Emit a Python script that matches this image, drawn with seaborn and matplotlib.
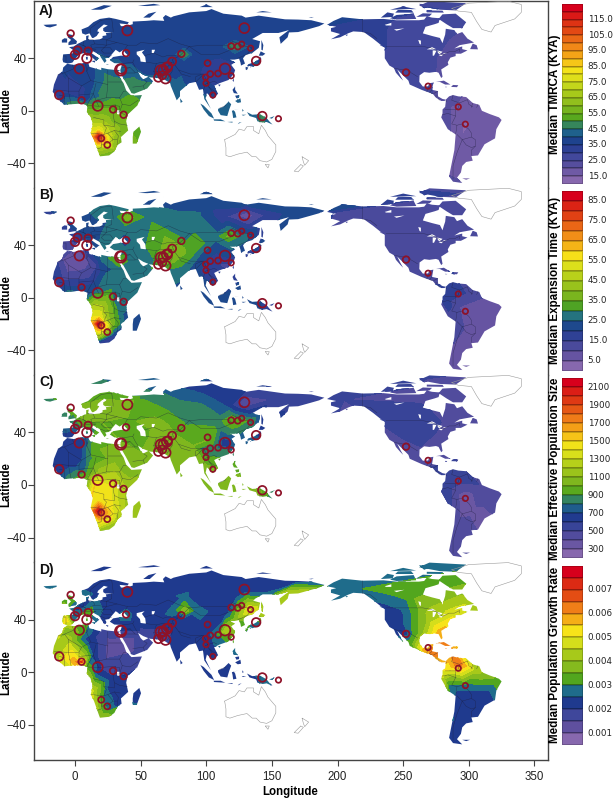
"""Coalescent estimates across sampled populations, four stacked map panels."""
import matplotlib
matplotlib.use("Agg")
import matplotlib.pyplot as plt
from matplotlib.colors import ListedColormap
from matplotlib.path import Path
import numpy as np
import seaborn as sns

# --- sampling sites (lon, lat) and circle radius in pixels
site_lon = [-3.3, 0, 2, 10, 9, 3.3, 38.9, 39.9, 34.8, 35.2, 81, 63.5, 65.5, 67.3, 70, 71, 74, 69, 66.5,
            129, 119, 124, 127, 133.8, 138, 101, 114.3, 109, 103, 99.5, 99.8, 105, 119, 142.7, 155,
            -12, 5, 17.3, 29, 37, 20, 24.6, 252.2, 269, 292, 297.4]
site_lat = [58.9, 42.7, 46, 45.5, 40, 32, 44, 61.2, 31.2, 31.8, 43.4, 25.4, 30.7, 31, 33, 34, 37.6, 24.6, 27,
            63, 49.3, 49, 50.8, 47.7, 38, 36.3, 32, 28.4, 28, 25.6, 21, 12, 26.7, -4, -6,
            12, 8, 3.8, 1, -3, -21, -26, 29.2, 18.8, 3, -10.2]
site_rad = [3.3, 4.3, 4, 3.7, 4.7, 4.7, 3.3, 5, 5.7, 4.7, 3.3, 4.3, 5.3, 4.7, 5, 4, 4, 5, 4,
            5, 3, 3, 2.7, 2.7, 4.3, 3, 5.3, 3, 3, 2.7, 2.7, 2.7, 2.7, 4.3, 2.7,
            4.3, 3.3, 5, 3.3, 3.3, 3, 3, 3.3, 2.7, 2.7, 2.7]

# --- estimated surface values: (lon, lat, value)
corners_a = [(-35, -60, 35), (-35, 85, 38), (335, 85, 24), (335, -60, 17), (150, -60, 40), (185, 20, 30)]
field_a = corners_a + [
    (18, -20, 120), (18, -17, 100), (15, -20, 100), (21, -21, 100), (18, -23.5, 100), (18, -14, 78), (10, -20, 85), (27, -20, 72),
    (18, -28, 70), (30, -20, 62), (35, -12, 58), (30, -30, 60), (20, -5, 62), (15, -5, 62), (35, -5, 57),
    (45, -20, 55), (25, 3, 54), (10, 3, 52), (42, 5, 52), (30, 12, 48), (15, 10, 44), (8, 8, 36),
    (5, 15, 32), (-10, 15, 32), (-5, 25, 33), (15, 20, 40), (25, 22, 47), (35, 20, 47), (45, 22, 47),
    (55, 20, 46), (45, 30, 42), (35, 33, 41), (-5, 35, 38), (0, 45, 38), (15, 50, 38), (30, 50, 38),
    (20, 65, 39), (40, 60, 38), (40, 40, 38), (60, 50, 38), (55, 30, 37), (70, 30, 38), (83, 43, 51),
    (77, 43, 40), (89, 43, 40), (83, 48, 39), (83, 38, 38), (80, 20, 41), (90, 25, 37), (100, 30, 33),
    (110, 32, 31), (118, 28, 30), (105, 15, 36), (100, 45, 38), (122, 49, 50), (112, 49, 39), (132, 49, 40),
    (122, 43, 38), (122, 54, 39), (100, 65, 40), (130, 63, 38), (160, 65, 39), (180, 66, 40), (138, 38, 40),
    (115, 0, 42), (125, 5, 42), (142, -5, 47), (135, -3, 42), (148, -5, 42), (200, 65, 33), (225, 65, 31),
    (250, 60, 29), (265, 55, 29), (285, 55, 25), (250, 45, 29), (260, 40, 28), (280, 40, 24), (250, 30, 29),
    (265, 20, 27), (280, 10, 23), (290, 5, 20), (297, -10, 14), (300, -25, 17), (290, -45, 18), (310, -5, 17),
]
corners_b = [(-35, -60, 15), (-35, 85, 22), (335, 85, 12), (335, -60, 8), (150, -60, 20), (185, 20, 14)]
field_b = corners_b + [
    (18, -20, 88), (18, -17, 70), (15, -20, 70), (21, -21, 70), (18, -23.5, 65), (18, -14, 55), (10, -20, 60), (28, -20, 38),
    (18, -30, 40), (30, -28, 20), (35, -25, 20), (40, -20, 22), (35, -10, 26), (22, -5, 43), (15, -5, 45), (25, 3, 33), (10, 3, 22),
    (17, 6, 25), (30, 10, 27), (45, 8, 27), (25, 18, 27), (20, 20, 20), (15, 25, 12), (3, 32, 5), (-5, 22, 8), (10, 18, 12),
    (-10, 12, 16), (5, 8, 20), (-10, 30, 10), (20, 32, 27), (36, 28, 36), (32, 22, 27), (42, 28, 27), (55, 20, 27),
    (5, 47, 20), (-3, 42, 14), (15, 50, 21), (22, 47, 27), (0, 55, 22), (38, 44, 22), (38, 36, 26), (28, 44, 27), (48, 44, 27), (38, 53, 27),
    (40, 61, 38), (30, 62, 27), (55, 62, 28), (40, 69, 27), (70, 30, 40), (60, 35, 33), (57, 28, 26), (74, 40, 38),
    (90, 36, 33), (80, 50, 27), (95, 35, 26), (75, 20, 27), (85, 22, 26), (107, 28, 16), (115, 25, 14), (98, 20, 18),
    (108, 38, 22), (120, 35, 24), (100, 8, 22), (117, 47, 36), (107, 47, 27), (127, 47, 28), (117, 41, 27), (117, 53, 27),
    (130, 63, 6), (115, 62, 15), (100, 70, 22), (92, 62, 27), (145, 63, 15), (165, 65, 22), (130, 72, 22), (185, 66, 22),
    (135, 50, 22), (138, 38, 20), (115, 0, 21), (125, 8, 21), (142, -5, 20), (130, -3, 21),
    (200, 65, 13), (230, 60, 13), (270, 60, 12), (250, 40, 13), (280, 40, 13), (260, 20, 13), (280, 10, 15),
    (292, 5, 17), (283, 0, 17), (310, 0, 10), (297, -10, 7), (300, -30, 8), (290, -45, 8),
]
corners_c = [(-35, -60, 900), (-35, 85, 900), (335, 85, 450), (335, -60, 350), (150, -60, 900), (185, 20, 500)]
field_c = corners_c + [
    (18, -20, 2150), (18, -16, 1750), (15, -20, 1850), (22, -21, 1700), (18, -24, 1750), (18, -12, 1480), (10, -20, 1500), (30, -20, 1380),
    (20, -30, 1350), (33, -28, 1150), (40, -18, 1150), (25, -5, 1450), (15, 0, 1500), (30, 0, 1350), (40, 0, 1150), (20, 10, 1150),
    (10, 8, 950), (7, 12, 760), (12, 20, 880), (4, 25, 650), (-10, 15, 600), (-10, 25, 600), (5, 32, 620), (15, 30, 980), (30, 20, 1050), (45, 15, 1000),
    (-8, 40, 700), (-3, 44, 720), (5, 50, 1000), (20, 48, 1000), (0, 60, 1000), (20, 65, 1000), (40, 61, 1100), (40, 50, 980),
    (35, 33, 1000), (50, 25, 1000), (70, 30, 1100), (65, 45, 1050), (50, 40, 950), (90, 30, 1000), (78, 20, 1000),
    (70, 60, 870), (95, 58, 850), (50, 68, 880), (85, 48, 880), (110, 45, 850), (122, 49, 1000), (108, 49, 850), (135, 49, 860),
    (122, 56, 700), (115, 60, 700), (95, 72, 680), (129, 63, 380), (150, 65, 500), (170, 65, 550), (190, 66, 550), (105, 70, 650), (130, 72, 600),
    (114, 31, 600), (122, 25, 820), (108, 28, 800), (98, 27, 820), (103, 35, 1000), (118, 40, 840), (125, 38, 780), (138, 38, 700),
    (100, 15, 1000), (115, 0, 1050), (125, 8, 1000), (142, -5, 1000), (150, -5, 820), (128, -3, 1050),
    (205, 65, 500), (245, 55, 550), (265, 45, 550), (270, 65, 480), (290, 50, 460), (285, 35, 450), (250, 32, 490), (262, 20, 470),
    (280, 10, 520), (292, 5, 560), (283, 0, 560), (310, 0, 490), (297, -10, 320), (305, -20, 380), (320, -10, 430), (290, -35, 450),
]
corners_d = [(-35, -60, .004), (-35, 85, .002), (335, 85, .003), (335, -60, .002), (150, -60, .002), (185, 20, .002)]
field_d = corners_d + [
    (5, 8, .0072), (0, 8, .0058), (-5, 10, .0054), (8, 10, .0042), (-12, 12, .0045), (-15, 20, .0042), (-5, 25, .0042), (3, 30, .0034), (-8, 33, .0037),
    (9, 5, .0032), (14, 14, .0022), (10, 25, .0022), (20, 30, .0018), (30, 20, .001), (40, 22, .001), (45, 15, .0015), (30, 32, .002),
    (22, 8, .0016), (17, 0, .0022), (12, 2, .0032), (28, -5, .0021), (40, -5, .0021), (12, -15, .0048), (15, -22, .0043), (22, -20, .0028),
    (20, -33, .0037), (28, -28, .0026), (35, -20, .0022), (48, -20, .0022), (-7, 40, .0053), (-3, 44, .0026), (-8, 53, .0035), (5, 50, .0022), (10, 45, .0033),
    (25, 48, .0022), (20, 62, .0022), (38, 44, .0028), (30, 44, .0023), (48, 44, .0022), (40, 52, .0022), (50, 30, .0019), (60, 40, .0022), (70, 30, .0019), (80, 20, .0022),
    (40, 65, .0022), (60, 62, .0022), (84, 47, .0039), (84, 41, .0022), (75, 47, .0027), (92, 47, .0027), (83, 57, .0026), (72, 55, .0022), (98, 55, .0022), (100, 30, .0022),
    (105, 15, .0022), (95, 72, .0022), (129, 63, .0021), (115, 45, .0022), (122, 58, .0022), (108, 28, .0029), (114, 31, .0043), (121, 27, .0034),
    (122, 40, .0037), (128, 48, .0042), (134, 47, .0052), (140, 50, .0044), (142, 44, .0042), (138, 38, .0028), (150, 60, .0026), (160, 60, .0044), (175, 62, .0042),
    (170, 69, .0024), (115, 0, .0022), (125, 8, .0022), (142, -5, .0027), (135, -3, .0022),
    (195, 66, .0028), (225, 60, .0028), (232, 50, .0023), (245, 40, .002), (252, 29, .0023), (257, 22, .0034), (265, 17, .0055), (272, 14, .0062),
    (255, 60, .0033), (265, 50, .0038), (270, 40, .0042), (278, 30, .0058), (290, 45, .0048), (290, 60, .0038), (262, 30, .0035), (285, 20, .0062),
    (292, 7, .0065), (285, 3, .0052), (280, -2, .0046), (305, 2, .0043), (322, -5, .0034), (297, -10, .0028), (285, -10, .0028),
    (315, -15, .0024), (300, -20, .002), (290, -45, .002),
]

# --- colour bars: low edge, high edge, step, tick labels
bar_edges = [(10, 125, 5), (0, 90, 5), (200, 2200, 100), (.0005, .008, .0005)]
bar_ticks = [[115, 105, 95, 85, 75, 65, 55, 45, 35, 25, 15],
             [85, 75, 65, 55, 45, 35, 25, 15, 5],
             [2100, 1900, 1700, 1500, 1300, 1100, 900, 700, 500, 300],
             [.007, .006, .005, .004, .003, .002, .001]]
bar_fmt = ["{:.1f}", "{:.1f}", "{:.0f}", "{:.3f}"]
bar_titles = ["Median TMRCA (KYA)", "Median Expansion Time (KYA)",
              "Median Effective Population Size", "Median Population Growth Rate"]
bar_rows = [(4, 184), (190.7, 370.7), (378, 558), (565.7, 745)]
title_y = [94, 280, 469, 655]
ramp = ["#8768AE", "#5F509F", "#3E479B", "#1E3A8E", "#1F6C8C", "#52A61E", "#86BA1E", "#A6C81A",
        "#D4DE1B", "#F7E319", "#F5AE17", "#F08018", "#E44E14", "#DC2A14", "#D7001C"]

# --- land outlines, filled with the surface
eurasia = [(-9, 37), (-9.5, 39), (-9, 43), (-2, 43.5), (-1, 46), (-4.5, 48.5), (-1, 49), (2, 51), (4, 52), (7, 53.5), (8.5, 54),
           (8.5, 57), (10.5, 57.5), (10, 55), (11, 54), (14, 54), (19, 54.5), (21, 55.5), (21, 57), (24, 57.5), (23.5, 59.3), (29, 60),
           (23, 60), (21.5, 61), (21.5, 63), (25, 65), (22, 65.8), (17.5, 62), (17, 60.5), (18.5, 60), (16.5, 57), (14, 55.5), (13, 55.5),
           (11, 59), (8, 58), (5.5, 59), (5, 62), (10, 64), (14, 67.5), (19, 70), (26, 71), (31, 70), (41, 67.5), (40, 66), (34, 66.5),
           (35, 64.5), (38, 64.5), (40.5, 65), (44, 66), (44, 68), (54, 68.5), (60, 69), (68, 68.5), (67, 71), (69, 73), (73, 71), (75, 72),
           (81, 73.5), (87, 75), (100, 76), (104, 77.5), (113, 74), (127, 72.5), (130, 71), (140, 72.5), (160, 69.7), (170, 69.5), (180, 69),
           (190, 66.5), (186, 64.5), (179, 62.5), (170, 60), (163, 59.7), (162, 56), (156.7, 51), (155.7, 56), (163, 61.5), (155, 59.3),
           (143, 59.3), (135, 54.7), (141, 53), (140, 48), (135, 44), (130, 42.5), (128, 40), (129.5, 36), (126.5, 34.5), (126, 37),
           (125, 39.7), (121.5, 39), (118, 39), (122, 37), (119, 35), (122, 31), (121, 28), (117, 23.5), (110, 21), (106, 19), (109, 13),
           (105, 9), (100.5, 13.5), (99.5, 9.5), (103.5, 1.5), (100.5, 6), (98.5, 9), (97.5, 16.5), (94.5, 16), (92, 22), (87, 21), (80, 15),
           (80, 11), (77.5, 8), (73, 19), (72.5, 21), (67, 24.5), (57, 25.5), (52, 27.5), (48, 30), (50, 26), (52, 24), (56, 26), (59.5, 22.5),
           (55, 17), (45, 13), (43, 13.5), (39, 21), (35, 28), (34.5, 31), (36, 36), (30, 36.3), (26.5, 38.5), (29, 41), (35, 42), (41, 41.5),
           (38, 44.5), (37, 46.5), (34, 44.5), (31, 46.5), (28, 43), (26, 40.5), (23, 40), (24, 38), (22.5, 36.5), (19.5, 41), (19, 42.5),
           (13.5, 45.5), (12.5, 44), (16, 41.5), (18.5, 40), (16, 38), (11, 42.5), (8.5, 44.3), (3.5, 43.3), (0, 39.5), (-2, 36.7), (-5.5, 36)]
africa = [(-6, 35.8), (-1, 35), (10, 37), (11, 33.5), (20, 31), (20, 32.8), (25, 31.7), (32, 31), (34.3, 31), (32.5, 29.5), (35, 24), (37, 21),
          (39, 15.5), (43, 11.5), (51, 12), (47.5, 4), (40, -3), (39, -8), (40.5, -15), (35, -20), (35.5, -24), (32.5, -26), (30, -31), (26, -34),
          (19, -34.7), (18, -32), (14.5, -22), (12, -17), (13.5, -10), (12, -5), (9, -1), (9.5, 4), (5, 5.5), (-3, 5), (-8, 4.5), (-13, 9),
          (-17, 14.5), (-16, 20), (-13, 27.5), (-9.5, 30), (-9, 33)]
north_america = [(192, 65.5), (197, 68.5), (203.5, 71.3), (219, 69.7), (235, 70), (245, 69), (252, 69), (262, 69), (266, 69.5), (268, 72), (272, 71),
                 (278, 70.5), (277, 67), (274, 66), (267, 64), (265, 59), (272, 57), (278, 55.5), (280, 51.5), (281, 55), (282, 58), (282.5, 62.5),
                 (289, 61.5), (291, 58.5), (295, 60), (299, 55), (304, 52), (293, 50), (289, 47.5), (295, 49), (295, 47), (299, 46), (294, 43.5), (290, 43.5),
                 (290, 41.7), (286, 40.5), (284, 37), (284.5, 35), (279, 31.5), (280, 26), (279, 25), (277, 29), (275, 29.7), (270, 29), (266, 29.5),
                 (262.5, 27), (262.3, 22), (265, 18.5), (269, 18.7), (270, 21), (273, 21.5), (272, 16), (276.5, 15), (276.5, 11), (280, 9), (282.5, 8.5),
                 (281.5, 7.5), (279, 7.5), (275, 10), (272.5, 13), (268, 14.5), (264, 16), (255, 20), (254, 23), (248, 29), (245.5, 31.5), (248, 26.5),
                 (250, 23), (248, 25), (244.5, 29), (243, 32.5), (239.5, 34.5), (236, 40), (236, 48), (232, 51), (227, 55), (220, 60), (212, 60.5),
                 (208, 59), (202, 56), (195, 54.5), (202, 58.5), (195, 60.5), (195, 63), (199, 64)]
south_america = [(282.5, 8.5), (285, 11), (288, 12), (292, 11), (298, 10.5), (303, 6), (308, 4.5), (310, 0), (316, -2.5), (323, -5), (325, -7),
                 (321, -14), (320, -21), (312, -25.5), (307, -34), (302, -34.5), (303, -38), (298, -39), (295, -42), (294, -47), (291, -51), (295, -55),
                 (288, -54), (285, -50), (287, -40), (289, -30), (290, -18), (284, -14), (279, -5), (280, -2), (280, 1), (282, 3), (282.5, 7)]
islands = [
    [(-5, 50), (1, 51), (1.5, 53), (-2, 56), (-2, 57.7), (-5, 58.5), (-5.5, 56), (-3, 54), (-5, 52)],
    [(-10, 52), (-6, 52), (-6, 55), (-8, 55.3), (-10, 54)],
    [(-24, 65.5), (-14, 66), (-14, 65), (-19, 63.5), (-22, 64)],
    [(8.3, 41), (9.7, 41), (9.7, 39), (8.5, 39)], [(8.7, 43), (9.5, 43), (9.4, 41.5), (8.8, 41.6)],
    [(12.5, 38), (15.5, 38.2), (15, 36.7)], [(32.5, 35), (34.5, 35.6), (33.5, 34.6)], [(23.5, 35.5), (26, 35.3), (24.5, 35)],
    [(12, 77), (22, 80.5), (28, 80), (20, 77)], [(48, 80), (60, 81.5), (65, 80.5), (55, 79.8)],
    [(52, 71), (56, 74), (68, 77), (62, 75.5), (57, 71)], [(95, 79), (105, 79), (100, 81)], [(138, 75), (150, 75), (143, 76)],
    [(178, 71), (182, 71.5), (180, 70.8)], [(80, 9.5), (82, 7), (80.5, 6)], [(121, 25), (121, 22), (120, 23)],
    [(109, 20), (111, 20), (110, 18.5)], [(142, 54), (143.5, 50), (143, 46), (142, 46.5), (142, 50)],
    [(131, 34), (135, 33.5), (140, 35), (142, 39.5), (141, 41.3), (139.8, 39), (136.5, 37), (132, 35.5)],
    [(140, 42), (141.5, 45.3), (145, 43.5), (143, 42)], [(130, 33.5), (132, 33), (131, 31), (130, 31.5)], [(132.5, 34), (134.5, 34.2), (134, 33)],
    [(120, 16), (122, 18.5), (122, 16), (124, 13), (121, 13.5)], [(122, 7.5), (126, 9.5), (126.5, 6.5), (124, 6)], [(122, 11.5), (125, 12), (125, 10), (123, 9.5)],
    [(109, 1.5), (113, 3), (117, 7), (119, 5), (117.5, 1), (116, -4), (111, -3.3), (109, 0)],
    [(95.5, 5.5), (98, 4), (104, -2), (106, -6), (102, -4), (98, 1)], [(105.5, -6.5), (111, -6.5), (114.5, -8), (106, -7.5)],
    [(119.5, 0), (125, 1.5), (121, 0.5), (122, -1), (123, -5), (120.5, -5.5), (120, -2)], [(116, -8.5), (120, -8.3), (120, -9)], [(125, -9), (127, -8.5), (124, -10.2)],
    [(127.5, 1.5), (128.5, 0), (127.5, -0.5)], [(127, -3), (130.5, -3), (128, -3.7)],
    [(131, -1), (135, -3), (141, -2.6), (146, -5.5), (148, -8), (150.5, -10.5), (146, -8.5), (143, -9), (139, -8), (138, -5.5), (133, -4)],
    [(148, -5.5), (152, -4), (150, -6)], [(49, -12), (50.3, -16), (47, -25), (44, -25), (44, -20), (44.5, -16)],
    [(277, 70), (280, 73.5), (290, 74), (298, 67.5), (295, 63), (288, 63), (283, 66)], [(240, 70.5), (245, 73), (258, 74), (260, 70), (245, 69.5)], [(233, 71), (238, 75), (243, 74), (242, 71.5)],
    [(278, 77), (290, 76.5), (298, 82), (270, 83.5), (262, 80)], [(268, 75), (281, 74.8), (280, 76.3), (268, 76.5)], [(244, 74.8), (258, 74.8), (256, 77), (246, 76.8)],
    [(260, 71.5), (265, 74.3), (272, 74), (270, 72)], [(266, 78), (273, 81), (262, 81.5)], [(240, 77), (250, 79.5), (260, 77.5)],
    [(301, 47), (307, 46.8), (306, 50), (303, 51.2)], [(275, 22), (281, 23), (286, 20), (282, 20), (278, 22)],
    [(288, 19.7), (292, 19.5), (291, 18), (286.5, 18.2)], [(282, 18.4), (283.5, 18.2), (282.5, 17.8)], [(232, 50.5), (236, 48.5), (233, 49.5)],
    [(295, -51.5), (301, -51.5), (298, -52.5)], [(206, 58), (208, 58), (207, 57)],
]
lakes = [[(47, 45), (53, 46.5), (51, 44.5), (53.5, 41), (54, 37), (50, 37.5), (49.5, 40.5), (47, 43)],
         [(58.5, 46.5), (61, 46.5), (60, 44), (58.5, 44)],
         [(-88, 48.5), (-85, 47), (-87, 46.7), (-92, 46.8)], [(-87.5, 46), (-84.5, 46), (-86.5, 42), (-87.5, 42)],
         [(-84, 46), (-80, 45), (-82, 43), (-83.5, 44)], [(-83, 42.5), (-79, 43), (-81, 41.6)], [(-79.5, 44), (-76.5, 44), (-79, 43.3)],
         [(-98.5, 54), (-96.5, 53.5), (-96.5, 50.5), (-97.5, 51)], [(-124, 65.5), (-119, 67), (-119, 65), (-123, 65)], [(-117, 62), (-109, 62.8), (-115, 61)],
         [(32, 0.4), (34, 0.3), (34, -2.8), (32, -2.5)]]

# --- outlines only, no surface drawn on them
australia = [(114, -22), (122, -18), (125, -14), (129, -15), (131, -12), (136, -12), (136, -15), (140, -17.5), (142, -11), (145, -15), (147, -19),
             (153, -26), (153, -31), (150, -37), (146, -39), (141, -38), (138, -35), (135, -35), (131, -31.5), (124, -33), (118, -35), (115, -34), (115, -28)]
empty_land = [australia, [(145, -41), (148, -41), (147, -43.5)], [(173, -35), (178, -38), (175, -41.5), (174, -39)], [(172, -41), (174, -42), (170, -46.5), (167, -46)],
              [(287, 78), (300, 82), (330, 83.5), (340, 81), (340, 75), (335, 70), (320, 65), (317, 60), (310, 62), (306, 68), (302, 75), (292, 76)]]

# --- national borders
borders = [
    [(219, 69.7), (219, 60), (225, 59), (230, 55)], [(237, 49), (265, 49), (271, 48), (277, 45), (280, 42.5), (285, 45), (289, 45), (293, 47), (293, 45)],
    [(243, 32.5), (251, 31), (254, 31.5), (256, 29), (261, 26)], [(268, 14.5), (269, 18), (271, 18)], [(272, 16), (270, 14), (272.5, 13)], [(276.5, 15), (273, 13)], [(276.5, 11), (274.5, 11)], [(277, 9.5), (277.5, 8)],
    [(282.5, 8), (283, 7)], [(288, 12), (287, 8), (293, 6), (292, 2), (290, 1), (282, 1)], [(293, 6), (299, 8.5)], [(299, 8.5), (300, 5), (303, 3)], [(303, 6), (302, 2.5)], [(307, 5), (306, 2.5)],
    [(280, -3), (284, -2), (290, -4), (290, 1)], [(290, -4), (287, -10), (291, -11), (290, -18)], [(291, -11), (295, -10), (300, -14), (302, -17), (302, -20), (295, -22), (291, -18)],
    [(295, -22), (291, -32), (288, -42), (288, -52)], [(302, -20), (305, -22), (305, -27), (302, -28), (298, -26), (295, -22)], [(305, -27), (302, -30), (302, -34)],
    [(-2, 35), (-1, 32), (-8, 29), (-13, 27.5)], [(-8, 29), (-5, 25), (5, 19), (12, 23), (9, 30), (8, 36)], [(10, 33), (9, 30)], [(12, 23), (25, 20), (25, 31)], [(25, 22), (36, 22)],
    [(-16, 16), (-5, 15), (-5, 25)], [(-5, 15), (3, 15), (5, 19)], [(3, 15), (3, 6)], [(3, 12), (14, 13), (16, 21)], [(14, 13), (9, 4)], [(14, 13), (16, 8), (24, 10), (25, 20)], [(24, 10), (34, 10), (37, 15), (39, 15)],
    [(-5, 15), (-3, 5)], [(-8, 4.5), (-8, 11), (-12, 12)], [(34, 10), (36, 5), (42, 4), (48, 8)], [(36, 5), (34, -1), (40, -4)], [(30, 4), (34, 3.5), (34, -1)], [(16, 8), (18, 3.5), (31, 4.5), (30, -1)],
    [(14, -5), (22, -7), (22, -11), (30, -12), (30, -8), (29, -3), (30, -1)], [(30, -1), (34, -1)], [(30, -8), (34, -10), (40, -11)], [(12, -17), (22, -18), (25, -17), (30, -15), (35, -16)], [(22, -11), (24, -13), (22, -18)],
    [(30, -15), (33, -19), (32, -26)], [(20, -18), (20, -28), (17, -29)], [(25, -17), (29, -22), (32, -22)], [(20, -26), (25, -25), (29, -22)], [(9.5, 4), (18, 3.5)],
    [(-9, 42), (-7, 42), (-7, 37)], [(-2, 43.5), (3, 42.5)], [(3, 51), (8, 49), (7, 46), (7.5, 44)], [(7, 53.5), (6, 50), (8, 49)], [(9, 54.8), (14, 54)], [(14, 54), (15, 51), (12, 50), (13, 47.5), (8, 47.5)], [(7, 46), (13, 46.5), (16, 46.5), (13.5, 45.5)],
    [(15, 51), (24, 50), (24, 54), (19, 54.5)], [(24, 50), (22, 48), (16, 48), (13, 47.5)], [(22, 48), (27, 48), (29, 45)], [(24, 54), (28, 56), (28, 60)], [(24, 50), (32, 52), (40, 50), (38, 47)], [(24, 54), (32, 52)], [(22, 48), (20, 46), (22, 44), (28, 44)], [(19, 42.5), (21, 42), (23, 41), (26, 41.5), (28, 42)],
    [(12, 59), (12, 63), (20, 69)], [(20, 69), (28, 70), (29, 62), (29, 60)], [(40, 50), (47, 50), (50, 52), (62, 51), (71, 55), (80, 51), (87, 49)], [(87, 49), (98, 50), (106, 50), (117, 50), (120, 53), (127, 50), (135, 48), (131, 43)],
    [(87, 49), (80, 42), (74, 39), (76, 35), (79, 31), (88, 28), (98, 28), (101, 21), (106, 22.5), (108, 21.5)], [(87, 49), (96, 43), (110, 43), (120, 47), (117, 50)], [(131, 43), (124, 40)],
    [(53, 42), (60, 44), (67, 41), (70, 42), (80, 42)], [(54, 37), (62, 36), (66, 37), (74, 37)], [(62, 36), (60, 30), (62, 25)], [(60, 30), (66, 30), (70, 33), (74, 37)], [(74, 34), (74, 30), (70, 24)], [(79, 31), (81, 28), (88, 26)], [(92, 22), (92, 26), (97, 28)], [(92, 22), (95, 25), (98, 28)],
    [(98, 16), (99, 20), (101, 21)], [(101, 21), (102, 18), (106, 15), (108, 15)], [(102, 18), (105, 14), (103, 11)], [(45, 39), (44, 37), (46, 33), (48, 30)], [(36, 36), (44, 37)], [(36, 33), (42, 33), (46, 29), (48, 29)], [(36, 29), (46, 29)], [(42, 33), (39, 32)], [(44, 18), (52, 19), (55, 22), (52, 24)], [(52, 19), (53, 16)], [(141, -2.6), (141, -9)], [(115, 4), (110, 2)],
]

PX_PER_DEG = 1.3125
AX_LEFT, AX_RIGHT = 34.3, 547.7
panel_rows = [(1, 188), (188, 375), (375, 562), (562, 760)]
lat40_px = [58.3, 245.4, 432.5, 619.7]
letters = ["A)", "B)", "C)", "D)"]
letter_y = [11, 195, 382, 570]
W, H = 616, 799

sns.set_theme(style="ticks")
plt.rcParams["font.family"] = ["Liberation Sans", "DejaVu Sans"]

fig = plt.figure(figsize=(W / 100, H / 100), dpi=100)


def ring(poly):
    # American lakes are listed with negative longitudes, the map runs 0-360 there
    return [(x + 360 if x < -60 else x, y) for x, y in poly]


land = [eurasia, africa, north_america, south_america] + islands
verts, codes = [], []
for poly in land:
    verts += list(poly) + [poly[0]]
    codes += [Path.MOVETO] + [Path.LINETO] * (len(poly) - 1) + [Path.CLOSEPOLY]
land_path = Path(verts, codes)

fields = [field_a, field_b, field_c, field_d]
for i, (field, (top, bot)) in enumerate(zip(fields, panel_rows)):
    ax = fig.add_axes([AX_LEFT / W, 1 - bot / H, (AX_RIGHT - AX_LEFT) / W, (bot - top) / H])
    lo, hi, step = bar_edges[i]
    levels = np.linspace(lo, hi, int(round((hi - lo) / step)) + 1)
    colors = sns.blend_palette(ramp, n_colors=len(levels) - 1)

    fx, fy, fz = zip(*field)
    cs = ax.tricontourf(fx, fy, fz, levels=levels, colors=colors, extend="both", zorder=1)
    cs.set_clip_path(land_path, transform=ax.transData)
    cs.set_edgecolor("face")
    cs.set_linewidth(0.2)

    for poly in lakes:
        xs, ys = zip(*ring(poly))
        ax.fill(xs, ys, color="white", lw=0, zorder=2)
    for line in borders:
        xs, ys = zip(*line)
        ax.plot(xs, ys, color="#1c1c3a", lw=0.3, alpha=0.65, zorder=3)
    for poly in empty_land:
        xs, ys = zip(*(list(poly) + [poly[0]]))
        ax.plot(xs, ys, color="#9a9a9a", lw=0.4, zorder=3)

    # circle area in points^2 for a radius in pixels at 100 dpi
    sns.scatterplot(x=site_lon, y=site_lat, size=np.square(site_rad),
                    sizes=(2.0736 * 2.7 ** 2, 2.0736 * 5.7 ** 2),
                    marker="o", facecolor="none", edgecolor="#8e1228", linewidth=1.25,
                    legend=False, ax=ax, zorder=4, clip_on=False)

    ax.set_xlim((AX_LEFT - 75) / 1.3126, (AX_RIGHT - 75) / 1.3126)
    ax.set_ylim(40 + (lat40_px[i] - bot) / PX_PER_DEG, 40 + (lat40_px[i] - top) / PX_PER_DEG)
    ax.set_yticks([-40, 0, 40])
    ax.tick_params(axis="y", labelsize=8.3, length=4, width=0.8, color="#444444", labelcolor="#222222", pad=1.5)
    if i == 3:
        ax.set_xticks(range(0, 351, 50))
        ax.tick_params(axis="x", labelsize=8.3, length=4, width=0.8, color="#444444", labelcolor="#222222", pad=4)
    else:
        ax.set_xticks([])
    for name, spine in ax.spines.items():
        spine.set_color("#444444")
        spine.set_linewidth(1.0)
    ax.spines["top"].set_visible(i == 0)
    ax.spines["bottom"].set_visible(i == 3)

    fig.text(5.8 / W, 1 - (lat40_px[i] + 52.5) / H, "Latitude", rotation=90, fontsize=8.3,
             fontweight="bold", ha="center", va="center", color="black")
    fig.text(39 / W, 1 - letter_y[i] / H, letters[i], fontsize=10, fontweight="bold",
             ha="left", va="center", color="#111111")

    # colour bar, highest band on top
    bar_top, bar_bot = bar_rows[i]
    cax = fig.add_axes([562 / W, 1 - bar_bot / H, 21.3 / W, (bar_bot - bar_top) / H])
    band_ids = np.arange(len(colors))[::-1].reshape(-1, 1)
    sns.heatmap(band_ids, cmap=ListedColormap(colors), cbar=False, xticklabels=False, yticklabels=False,
                linewidths=0.25, linecolor="#00000030", ax=cax)
    for tick in bar_ticks[i]:
        cax.text(1.2, (hi - tick) / step, bar_fmt[i].format(tick), fontsize=6.3, va="center", ha="left",
                 color="#222222", family="DejaVu Sans", clip_on=False)
    fig.text(555 / W, 1 - title_y[i] / H, bar_titles[i], rotation=90, fontsize=8.4, fontweight="bold",
             ha="center", va="center", color="black")

fig.text(290 / W, 1 - 792 / H, "Longitude", fontsize=8.3, fontweight="bold", ha="center", va="center", color="black")
fig.savefig("out.png", dpi=100)
